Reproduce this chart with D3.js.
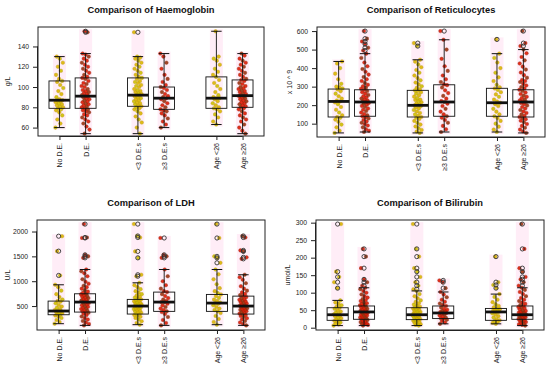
<!DOCTYPE html>
<html>
<head>
<meta charset="utf-8">
<script src="https://cdn.jsdelivr.net/npm/d3@7"></script>
<style>
  body { margin: 0; background: #fff; }
  text { font-family: "Liberation Sans", Arial, sans-serif; fill: #222; }
</style>
</head>
<body>
<svg id="chart" width="550" height="373"></svg>
<script>
// groups on the x axis (positions 3 and 6 are left empty)
const groups = ["No D.E.", "D.E.", "<3 D.E.s", "≥3 D.E.s", "Age <26", "Age ≥26"];
const groupPos = [1, 2, 4, 5, 7, 8];

// ---- Haemoglobin (g/L)
const hbNoDE = [60,64,68,72,75,77,78,79,80,81,82,83,84,85,86,87,87,88,90,93,96,99,102,105,106,108,112,116,120,124,128,130];
const hbDE = [54,58,61,64,66,68,70,72,73,75,76,77,78,79,80,81,82,83,84,85,86,87,88,89,90,91,91,92,93,94,95,96,97,98,100,101,103,104,106,108,109,110,112,114,116,118,120,122,124,126,128,130,132,133,154,155];
const hbLess3 = [54,60,65,68,71,74,76,78,79,80,81,82,83,84,85,86,87,88,89,90,91,92,92,93,94,95,96,97,98,100,101,102,104,105,106,108,109,110,112,114,116,118,120,122,124,126,128,129,130,154];
const hbMore3 = [60,63,66,69,72,74,76,77,78,80,82,84,86,88,89,90,91,93,95,97,99,100,102,105,108,112,118,124,130,133];
const hbYoung = [63,66,70,73,76,78,79,80,82,84,86,88,89,89,90,92,95,98,101,104,107,110,112,115,118,122,126,128,130,155];
const hbOld = [54,57,60,63,66,68,70,72,74,76,78,79,80,81,82,83,84,85,86,87,88,89,90,91,91,92,93,94,95,96,97,98,99,100,101,103,104,106,107,108,110,112,114,116,118,120,122,124,126,128,131,133];
// box stats: [lower whisker, q1, median, q3, upper whisker]
const hbBox = [[60,79,87,106,130],[54,79,91,109,133],[54,81,92,109,130],[60,78,89,100,133],[63,79,89,110,155],[54,80,91.5,107,133]];
const hbTicks = [60, 80, 100, 120, 140];

// ---- Reticulocytes (x 10^9)
const retNoDE = [50,62,80,95,110,122,132,136,145,160,175,190,205,215,220,225,235,248,262,275,285,290,296,300,315,340,370,400,425,436];
const retDE = [55,62,70,80,90,98,105,112,120,128,135,140,145,152,160,168,175,182,190,196,202,208,212,217,220,225,230,236,242,248,255,262,270,276,283,288,295,302,310,320,330,340,352,365,380,395,410,430,455,478,495,510,530,544,559,600];
const retLess3 = [50,58,66,75,85,95,105,115,125,132,136,142,150,158,166,174,182,188,194,199,199,204,210,216,222,228,230,238,246,254,262,270,276,280,286,294,302,312,322,334,346,360,375,390,405,420,435,445,519,535];
const retMore3 = [55,70,88,105,120,132,140,150,165,180,195,208,217,222,235,250,265,280,295,308,312,325,340,360,385,410,450,500,553,600];
const retYoung = [55,68,84,100,115,130,140,150,165,180,195,205,213,220,230,245,258,270,282,290,296,310,330,350,375,400,430,455,478,555];
const retOld = [50,58,68,78,88,98,108,116,124,130,136,142,150,158,166,174,182,190,198,205,212,217,220,226,232,238,245,252,260,268,276,283,290,298,306,315,325,330,336,348,362,376,392,408,425,442,460,480,500,519,535,600];
const retBox = [[50,136,220,287,436],[55,140,217,283,478],[50,136,199,280,445],[55,140,217,310,553],[55,140,213,291,478],[50,136,217,283,500]];
const retTicks = [100, 200, 300, 400, 500, 600];

// ---- LDH (U/L)
const ldhNoDE = [145,180,220,260,290,310,325,340,355,370,385,400,405,420,440,465,490,520,555,590,600,630,680,740,810,880,928,1116,1605,1906];
const ldhDE = [111,140,170,200,230,260,290,320,345,365,379,395,410,425,440,455,470,485,500,515,530,545,560,575,580,585,600,615,630,645,660,675,690,705,720,735,747,765,790,820,850,880,910,950,990,1040,1100,1160,1200,1236,1470,1500,1530,1870,1880,2150];
const ldhLess3 = [125,160,195,230,260,285,305,320,339,350,365,380,395,410,425,440,450,455,470,485,500,505,520,535,550,560,565,580,595,610,625,634,650,670,690,715,740,770,800,840,880,920,968,1100,1130,1470,1600,1880,1910,2150];
const ldhMore3 = [111,160,220,280,340,380,393,420,450,480,510,545,575,580,600,630,660,700,740,781,800,850,920,1000,1100,1236,1470,1500,1530,1870];
const ldhYoung = [125,180,240,300,360,393,420,450,480,515,545,560,570,600,630,665,700,734,760,800,860,940,1040,1140,1236,1370,1470,1500,1870,2150];
const ldhOld = [111,140,170,200,230,255,280,300,320,339,350,365,380,395,410,425,430,440,455,470,485,495,500,505,520,535,550,565,580,595,610,625,640,660,680,700,720,745,775,810,850,900,960,1030,1080,1130,1450,1480,1600,1620,1880,1910];
const ldhBox = [[145,325,400,600,928],[111,379,580,747,1236],[125,339,500,634,968],[111,393,580,781,1236],[125,393,560,734,1236],[111,339,500,700,1130]];
const ldhTicks = [500, 1000, 1500, 2000];

// ---- Bilirubin (umol/L)
const bilNoDE = [6,9,12,15,18,20,21,24,27,30,33,35,37,38,40,43,46,50,54,57,60,64,68,72,78,113,130,145,160,296];
const bilDE = [6,8,10,11,12,14,16,18,20,22,24,25,27,28,29,31,33,35,36,37,39,41,43,44,45,46,47,48,50,52,54,56,58,60,62,64,66,68,70,73,76,79,82,86,90,95,100,105,110,114,120,130,138,170,203,225];
const bilLess3 = [6,8,10,12,14,16,18,20,22,23,25,27,29,31,33,34,35,37,37,39,41,43,44,45,47,49,51,53,55,57,58,60,63,66,70,74,78,84,90,96,105,110,120,130,145,160,170,203,225,296];
const bilMore3 = [11,15,19,23,26,27,29,32,35,38,40,42,43,45,47,48,51,54,58,62,65,69,74,80,87,95,102,113,130,135];
const bilYoung = [11,14,17,19,21,25,29,33,37,41,44,45,46,47,48,50,52,53,55,58,62,67,73,80,88,96,113,122,130,203];
const bilOld = [6,8,10,12,14,16,18,20,22,24,25,26,28,30,31,32,34,36,37,38,39,40,42,43,44,46,48,50,53,56,58,59,62,65,68,72,76,80,85,90,96,102,108,114,120,130,138,145,160,170,225,296];
const bilBox = [[6,21,37,57,78],[6,24,45,62,114],[6,23,37,57,105],[11,26,42,62,102],[11,21,45,55,96],[6,24,37,62,114]];
const bilTicks = [0, 50, 100, 150, 200, 250, 300];

const panels = [
  { title: "Comparison of Haemoglobin", ylab: "g/L", data: [hbNoDE, hbDE, hbLess3, hbMore3, hbYoung, hbOld], box: hbBox, ticks: hbTicks,
    x0: 38, x1: 264, y0: 27, y1: 136, dom: [51.7, 159.2], labX: 8 },
  { title: "Comparison of Reticulocytes", ylab: "x 10 ^ 9", data: [retNoDE, retDE, retLess3, retMore3, retYoung, retOld], box: retBox, ticks: retTicks,
    x0: 317, x1: 545, y0: 27, y1: 137, dom: [28, 622], labX: 290 },
  { title: "Comparison of LDH", ylab: "U/L", data: [ldhNoDE, ldhDE, ldhLess3, ldhMore3, ldhYoung, ldhOld], box: ldhBox, ticks: ldhTicks,
    x0: 37, x1: 265, y0: 220, y1: 330, dom: [18, 2232], labX: 8 },
  { title: "Comparison of Bilirubin", ylab: "umol/L", data: [bilNoDE, bilDE, bilLess3, bilMore3, bilYoung, bilOld], box: bilBox, ticks: bilTicks,
    x0: 316, x1: 544, y0: 220, y1: 330, dom: [-6.6, 307.6], labX: 288 }
];

const yellowFill = ["#dcb600", "#cfc000"];
const redFill = ["#e01a05", "#9a3512"];

const svg = d3.select("#chart");

panels.forEach(p => {
  const g = svg.append("g");
  const x = d3.scaleLinear().domain([0.18, 8.82]).range([p.x0, p.x1]);
  const y = d3.scaleLinear().domain(p.dom).range([p.y1, p.y0]);
  const unit = x(1) - x(0);

  // title
  g.append("text")
    .attr("x", (p.x0 + p.x1) / 2)
    .attr("y", p.y0 - 14)
    .attr("text-anchor", "middle")
    .style("font-weight", "bold")
    .style("font-size", "9.3px")
    .style("fill", "#111")
    .text(p.title);

  // y axis title
  g.append("text")
    .attr("transform", `translate(${p.labX},${(p.y0 + p.y1) / 2}) rotate(-90)`)
    .attr("text-anchor", "middle")
    .attr("dy", "0.35em")
    .style("font-size", "7px")
    .text(p.ylab);

  // pink strips behind the points
  p.data.forEach((vals, i) => {
    const cx = x(groupPos[i]);
    const ext = d3.extent(vals);
    g.append("rect")
      .attr("x", cx - 6.5)
      .attr("width", 13)
      .attr("y", y(ext[1]) - 2)
      .attr("height", y(ext[0]) - y(ext[1]) + 4)
      .attr("fill", "#ffcce8")
      .attr("opacity", 0.35);
  });

  // jittered points
  p.data.forEach((vals, i) => {
    const cx = x(groupPos[i]);
    const fills = i % 2 === 0 ? yellowFill : redFill;
    g.append("g").selectAll("circle")
      .data(vals)
      .join("circle")
      .attr("cx", (d, j) => cx + (((j * 0.618034 + i * 0.37) % 1) - 0.5) * 8)
      .attr("cy", d => y(d))
      .attr("r", 1.8)
      .attr("fill", (d, j) => fills[j % 3 === 0 ? 1 : 0])
      .attr("stroke", i % 2 === 0 ? "#b89a10" : "#8a2a10")
      .attr("stroke-width", 0.4)
      .attr("opacity", 0.9);
  });

  // boxes
  p.box.forEach((b, i) => {
    const cx = x(groupPos[i]);
    const hw = unit * 0.4, cw = unit * 0.2;
    const bg = g.append("g").attr("stroke", "#111").attr("fill", "none");
    bg.append("line").attr("x1", cx).attr("x2", cx).attr("y1", y(b[3])).attr("y2", y(b[4])).attr("stroke-width", 0.9);
    bg.append("line").attr("x1", cx).attr("x2", cx).attr("y1", y(b[1])).attr("y2", y(b[0])).attr("stroke-width", 0.9);
    bg.append("line").attr("x1", cx - cw).attr("x2", cx + cw).attr("y1", y(b[4])).attr("y2", y(b[4])).attr("stroke-width", 1);
    bg.append("line").attr("x1", cx - cw).attr("x2", cx + cw).attr("y1", y(b[0])).attr("y2", y(b[0])).attr("stroke-width", 1);
    bg.append("rect").attr("x", cx - hw).attr("width", 2 * hw)
      .attr("y", y(b[3])).attr("height", y(b[1]) - y(b[3])).attr("stroke-width", 0.9);
    bg.append("line").attr("x1", cx - hw).attr("x2", cx + hw).attr("y1", y(b[2])).attr("y2", y(b[2])).attr("stroke-width", 2.8);

    // outliers as open circles
    const outs = p.data[i].filter(v => v > b[4] || v < b[0]);
    g.append("g").selectAll("circle")
      .data(outs)
      .join("circle")
      .attr("cx", cx)
      .attr("cy", d => y(d))
      .attr("r", 2.1)
      .attr("fill", "none")
      .attr("stroke", "#333")
      .attr("stroke-width", 0.9);
  });

  // plot frame
  g.append("rect")
    .attr("x", p.x0).attr("y", p.y0)
    .attr("width", p.x1 - p.x0).attr("height", p.y1 - p.y0)
    .attr("fill", "none").attr("stroke", "#222").attr("stroke-width", 1);

  // y axis
  const ya = g.append("g")
    .attr("transform", `translate(${p.x0},0)`)
    .call(d3.axisLeft(y).tickValues(p.ticks).tickSize(5).tickPadding(4).tickFormat(d3.format("d")));
  ya.select(".domain")
    .attr("d", `M-0.5,${y(p.ticks[0])}V${y(p.ticks[p.ticks.length - 1])}`)
    .attr("stroke", "#222");
  ya.selectAll("line").attr("stroke", "#222");
  ya.selectAll("text").style("font-size", "6.8px").style("font-family", "Liberation Sans, Arial, sans-serif").attr("fill", "#222");

  // x axis
  const xa = g.append("g")
    .attr("transform", `translate(0,${p.y1})`)
    .call(d3.axisBottom(x).tickValues(groupPos).tickSize(4).tickFormat((d, i) => groups[i]));
  xa.select(".domain")
    .attr("d", `M${x(1)},0.5H${x(8)}`)
    .attr("stroke", "#222");
  xa.selectAll("line").attr("stroke", "#222");
  xa.selectAll("text")
    .attr("transform", "rotate(-90)")
    .attr("text-anchor", "end")
    .attr("x", -7)
    .attr("y", 0)
    .attr("dy", "0.35em")
    .style("font-size", "7px")
    .style("font-family", "Liberation Sans, Arial, sans-serif")
    .attr("fill", "#222");
});
</script>
</body>
</html>
